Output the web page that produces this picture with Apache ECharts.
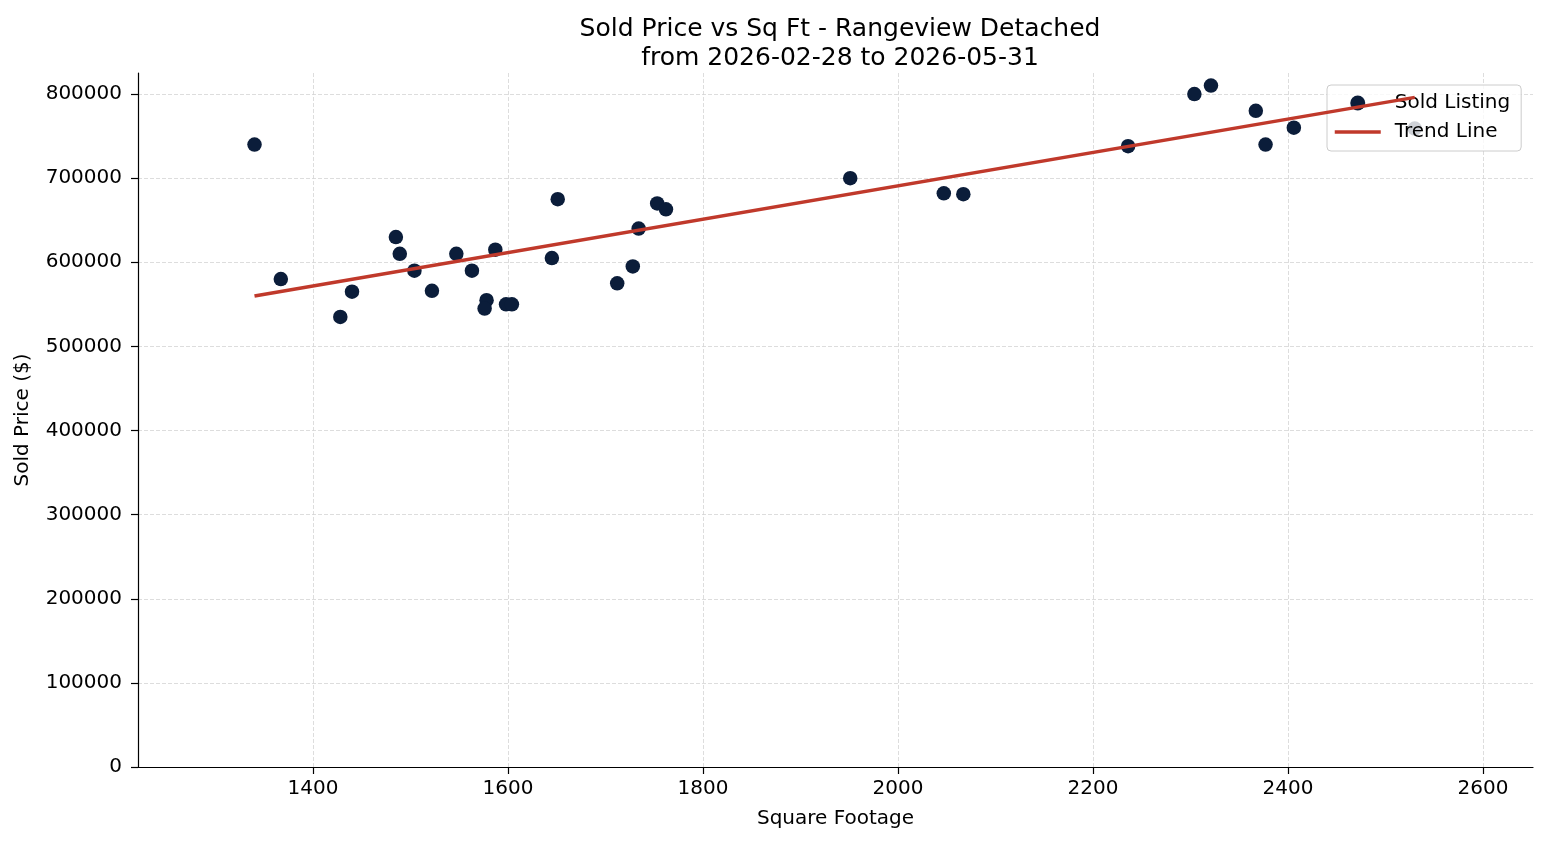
<!DOCTYPE html>
<html>
<head>
<meta charset="utf-8">
<script src="https://cdn.jsdelivr.net/npm/echarts@6/dist/echarts.min.js"></script>
<style>
html,body{margin:0;padding:0;background:#fff;}
#chart{width:1547px;height:845px;}
</style>
</head>
<body>
<div id="chart"></div>
<script>
// Data
const sqft = [1340, 1367, 1428, 1440, 1485, 1489, 1504, 1522, 1547, 1563, 1578, 1576, 1587, 1598, 1604, 1645, 1651, 1712, 1728, 1734, 1753, 1762, 1951, 2047, 2067, 2236, 2304, 2321, 2367, 2377, 2406, 2530];
const soldPrice = [740000, 580000, 535000, 565000, 630000, 610000, 590000, 566000, 610000, 590000, 555000, 545000, 615000, 550000, 550000, 605000, 675000, 575000, 595000, 640000, 670000, 663000, 700000, 682000, 681000, 738000, 800000, 810000, 780000, 740000, 760000, 759000];
const trendX = [1340, 2530];
const trendY = [560000, 796000];
const xTicks = [1400, 1600, 1800, 2000, 2200, 2400, 2600];
const yTicks = [0, 100000, 200000, 300000, 400000, 500000, 600000, 700000, 800000];

const points = sqft.map((x, i) => [x, soldPrice[i]]);
const trend = trendX.map((x, i) => [x, trendY[i]]);

const FONT = 'DejaVu Sans';
const chart = echarts.init(document.getElementById('chart'), null, {renderer: 'canvas'});
chart.setOption({
  backgroundColor: '#ffffff',
  animation: false,
  textStyle: {fontFamily: FONT},
  title: {
    text: 'Sold Price vs Sq Ft - Rangeview Detached\nfrom 2026-02-28 to 2026-05-31',
    left: 835, top: 10, textAlign: 'center',
    textStyle: {fontFamily: FONT, fontSize: 25, fontWeight: 'normal', color: '#000', lineHeight: 29}
  },
  grid: {left: 138, right: 14, top: 73, bottom: 78, containLabel: false},
  legend: {
    left: 1327, top: 85, orient: 'vertical',
    padding: [8, 11, 9, 6],
    itemWidth: 46, itemHeight: 15, itemGap: 9,
    backgroundColor: 'rgba(255,255,255,0.8)',
    borderColor: '#cccccc', borderWidth: 1, borderRadius: 4,
    textStyle: {fontFamily: FONT, fontSize: 20, color: '#000', padding: [0, 0, 0, 9]},
    data: [
      {name: 'Sold Listing', icon: 'circle'},
      {name: 'Trend Line',
       itemStyle: {color: 'rgba(0,0,0,0)', opacity: 0, borderWidth: 0},
       lineStyle: {color: '#c0392b', width: 3.5}}
    ]
  },
  xAxis: {
    type: 'value', min: 1220.5, max: 2651.3,
    name: 'Square Footage', nameLocation: 'middle', nameGap: 42,
    nameTextStyle: {fontFamily: FONT, fontSize: 20, color: '#000'},
    axisLine: {show: true, onZero: false, lineStyle: {color: '#000', width: 1.2}},
    axisTick: {show: true, length: 7, lineStyle: {color: '#000', width: 1.2}, customValues: xTicks},
    axisLabel: {fontFamily: FONT, fontSize: 20, color: '#000', margin: 12, customValues: xTicks,
      formatter: v => String(v)},
    splitLine: {show: true, lineStyle: {color: '#d4d4d4', type: [4, 2], width: 0.8}}
  },
  yAxis: {
    type: 'value', min: 0, max: 825000,
    name: 'Sold Price ($)', nameLocation: 'middle', nameGap: 105,
    nameTextStyle: {fontFamily: FONT, fontSize: 20, color: '#000'},
    axisLine: {show: true, lineStyle: {color: '#000', width: 1.2}},
    axisTick: {show: true, length: 7, lineStyle: {color: '#000', width: 1.2}, customValues: yTicks},
    axisLabel: {fontFamily: FONT, fontSize: 20, color: '#000', margin: 16, customValues: yTicks,
      formatter: v => String(v)},
    splitLine: {show: true, lineStyle: {color: '#d4d4d4', type: [4, 2], width: 0.8}}
  },
  series: [
    {
      name: 'Sold Listing', type: 'scatter', data: points,
      symbolSize: 14.5,
      itemStyle: {color: '#0b1d3a', opacity: 1},
      z: 3
    },
    {
      name: 'Trend Line', type: 'line', data: trend,
      showSymbol: false, symbol: 'none',
      lineStyle: {color: '#c0392b', width: 3.5},
      itemStyle: {color: '#c0392b'},
      z: 4
    }
  ]
});
</script>
</body>
</html>
